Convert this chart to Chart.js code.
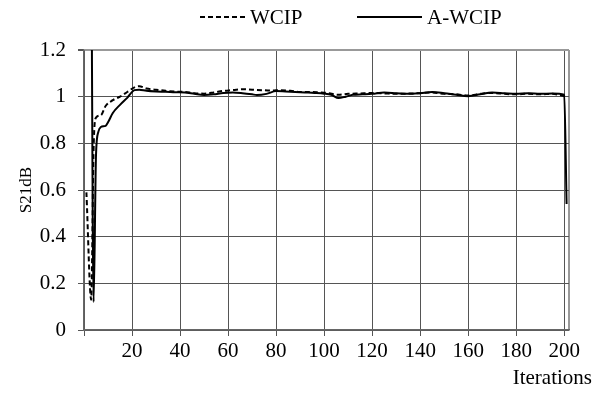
<!DOCTYPE html>
<html>
<head>
<title>S21dB vs iterations</title>
<script src="https://cdn.jsdelivr.net/npm/chart.js@4.4.0/dist/chart.umd.min.js"></script>
<style type="text/css">
  body { margin: 0; background: #fff; }
  #chart-container { width: 597px; height: 394px; }
</style>
</head>
<body>
<div id="chart-container">
  <canvas id="mycanvas" width="597" height="394"></canvas>
</div>
<script>
// values
var seriesNames = ['WCIP', 'A-WCIP'];

var wcipIter = [1, 3, 4, 5, 7, 9, 12, 15, 18, 21, 23, 26, 30, 34, 38, 42, 46, 50, 54, 58,
  62, 66, 70, 74, 78, 82, 86, 90, 94, 98, 102, 106, 110, 115, 120, 125, 130, 135, 140, 145,
  150, 155, 160, 165, 170, 175, 180, 185, 190, 195, 199, 201];
var wcipValues = [0.59, 0.13, 0.78, 0.91, 0.92, 0.96, 0.985, 1.0, 1.02, 1.04, 1.045, 1.035, 1.03, 1.025, 1.022, 1.02, 1.015, 1.013, 1.018, 1.025,
  1.028, 1.032, 1.03, 1.028, 1.026, 1.028, 1.025, 1.02, 1.02, 1.018, 1.015, 1.008, 1.012, 1.014, 1.016, 1.014, 1.012, 1.013, 1.015, 1.018,
  1.012, 1.01, 1.005, 1.012, 1.016, 1.012, 1.01, 1.013, 1.01, 1.012, 1.005, 1.0];

var awcipIter = [3, 4, 5, 6, 7, 9, 10, 12, 15, 18, 21, 23, 26, 30, 34, 38, 42, 46, 50, 54,
  58, 62, 66, 70, 72, 76, 80, 84, 88, 92, 96, 100, 103, 106, 109, 112, 116, 120, 125, 130,
  135, 140, 145, 150, 155, 160, 165, 170, 175, 180, 185, 190, 195, 200, 201];
var awcipValues = [1.8, 0.12, 0.75, 0.85, 0.87, 0.875, 0.89, 0.93, 0.965, 0.995, 1.028, 1.03, 1.025, 1.022, 1.021, 1.019, 1.018, 1.012, 1.007, 1.01,
  1.016, 1.018, 1.015, 1.01, 1.007, 1.012, 1.024, 1.022, 1.02, 1.018, 1.016, 1.013, 1.008, 0.994, 1.0, 1.008, 1.01, 1.012, 1.018, 1.015,
  1.012, 1.015, 1.02, 1.015, 1.008, 1.002, 1.01, 1.018, 1.015, 1.012, 1.015, 1.012, 1.014, 1.008, 0.54];

var xTickValues = [0, 20, 40, 60, 80, 100, 120, 140, 160, 180, 200, 202];
var yTickValues = [0, 0.2, 0.4, 0.6, 0.8, 1, 1.2];
var xAxisTitle = 'Iterations';
var yAxisTitle = 'S21dB';

function toPoints(xs, ys) {
  var pts = [];
  for (var i in xs) {
    pts.push({x: xs[i], y: ys[i]});
  }
  return pts;
}

var serif = 'Liberation Serif, Times New Roman, serif';

// legend and x title drawn by hand, the reference puts them where chart.js would not
var sideText = {
  id: 'sideText',
  afterDraw: function(chart) {
    var ctx = chart.ctx;
    var items = [
      {ds: chart.data.datasets[0], x1: 200, x2: 245, tx: 250},
      {ds: chart.data.datasets[1], x1: 357, x2: 422, tx: 427}
    ];
    ctx.save();
    items.forEach(function(it) {
      ctx.beginPath();
      ctx.strokeStyle = it.ds.borderColor;
      ctx.lineWidth = it.ds.borderWidth;
      ctx.setLineDash(it.ds.borderDash || []);
      ctx.moveTo(it.x1, 17);
      ctx.lineTo(it.x2, 17);
      ctx.stroke();
      ctx.setLineDash([]);
      ctx.fillStyle = '#000';
      ctx.font = '21px ' + serif;
      ctx.textBaseline = 'middle';
      ctx.textAlign = 'left';
      ctx.fillText(it.ds.label, it.tx, 18);
    });
    ctx.font = '21px ' + serif;
    ctx.textAlign = 'right';
    ctx.textBaseline = 'middle';
    ctx.fillText(xAxisTitle, 592, 378);
    ctx.restore();
  }
};

var ctx = document.getElementById('mycanvas');

var lineGraph = new Chart(ctx, {
  type: 'line',
  data: {
    datasets: [
      {
        label: seriesNames[0],
        data: toPoints(wcipIter, wcipValues),
        borderColor: '#000',
        borderWidth: 2,
        borderDash: [5, 3],
        pointRadius: 0,
        fill: false,
        cubicInterpolationMode: 'monotone'
      },
      {
        label: seriesNames[1],
        data: toPoints(awcipIter, awcipValues),
        borderColor: '#000',
        borderWidth: 2,
        pointRadius: 0,
        fill: false,
        cubicInterpolationMode: 'monotone'
      }
    ]
  },
  options: {
    responsive: false,
    animation: false,
    devicePixelRatio: 1,
    layout: { padding: { top: 50, right: 28, left: 0, bottom: 0 } },
    plugins: {
      legend: { display: false },
      tooltip: { enabled: false }
    },
    scales: {
      x: {
        type: 'linear',
        min: 0,
        max: 202,
        afterBuildTicks: function(scale) {
          scale.ticks = xTickValues.map(function(v) { return {value: v}; });
        },
        afterFit: function(scale) { scale.height = 64; },
        border: { color: '#666', width: 1.5 },
        grid: {
          color: function(c) { return c.tick && c.tick.value === 202 ? '#999' : '#555'; },
          lineWidth: function(c) { return c.tick && c.tick.value === 202 ? 2 : 1; },
          tickColor: function(c) { return c.tick && c.tick.value === 202 ? 'rgba(0,0,0,0)' : '#555'; },
          tickLength: 6
        },
        ticks: {
          autoSkip: false,
          maxRotation: 0,
          padding: 3,
          color: '#000',
          font: { family: serif, size: 21 },
          callback: function(v) { return (v === 0 || v === 202) ? '' : String(v); }
        }
      },
      y: {
        min: 0,
        max: 1.2,
        afterBuildTicks: function(scale) {
          scale.ticks = yTickValues.map(function(v) { return {value: v}; });
        },
        afterFit: function(scale) { scale.width = 84; },
        border: { color: '#666', width: 1.5 },
        grid: {
          color: function(c) { return c.tick && c.tick.value === 1.2 ? '#999' : '#555'; },
          lineWidth: function(c) { return c.tick && c.tick.value === 1.2 ? 2 : 1; },
          tickColor: '#555',
          tickLength: 6
        },
        ticks: {
          padding: 12,
          color: '#000',
          font: { family: serif, size: 21 },
          callback: function(v) { return String(v); }
        },
        title: {
          display: true,
          text: yAxisTitle,
          color: '#000',
          font: { family: serif, size: 17 },
          padding: { top: 16, bottom: 0 }
        }
      }
    }
  },
  plugins: [sideText]
});
</script>
</body>
</html>
